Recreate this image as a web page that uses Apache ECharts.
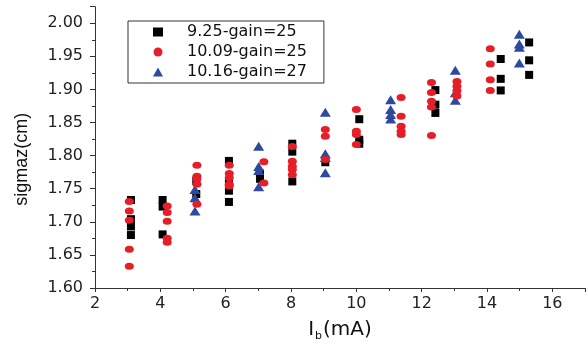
<!DOCTYPE html>
<html>
<head>
<meta charset="utf-8">
<script src="https://cdn.jsdelivr.net/npm/echarts@6/dist/echarts.min.js"></script>
<style>
html,body{margin:0;padding:0;background:#fff;}
#c{width:588px;height:347px;}
</style>
</head>
<body>
<div id="c"></div>
<script>
var seriesNames = ['9.25-gain=25', '10.09-gain=25', '10.16-gain=27'];
var xTicks = [2, 4, 6, 8, 10, 12, 14, 16];
var yTicks = [1.60, 1.65, 1.70, 1.75, 1.80, 1.85, 1.90, 1.95, 2.00];

var blackPoints = [
  [3.1,1.733],[3.1,1.704],[3.1,1.693],[3.1,1.680],
  [4.07,1.733],[4.07,1.723],[4.07,1.681],
  [5.1,1.762],[5.1,1.742],
  [6.1,1.792],[6.1,1.760],[6.1,1.747],[6.1,1.730],
  [7.05,1.773],[7.05,1.765],
  [8.04,1.818],[8.04,1.806],[8.04,1.761],
  [9.05,1.790],
  [10.09,1.855],[10.09,1.824],[10.09,1.818],
  [12.42,1.899],[12.42,1.877],[12.42,1.8645],
  [14.42,1.946],[14.42,1.916],[14.42,1.8985],
  [15.29,1.971],[15.29,1.944],[15.29,1.922]
];
var redPoints = [
  [3.05,1.7305],[3.05,1.7164],[3.05,1.7024],[3.05,1.6587],[3.05,1.6327],
  [4.21,1.724],[4.21,1.714],[4.21,1.701],[4.21,1.675],[4.21,1.669],
  [5.12,1.7856],[5.12,1.769],[5.12,1.765],[5.12,1.7566],[5.12,1.7264],
  [6.11,1.7856],[6.11,1.7731],[6.11,1.7667],[6.11,1.7566],[6.11,1.754],
  [7.17,1.7907],[7.17,1.7588],
  [8.04,1.8138],[8.04,1.7916],[8.04,1.7841],[8.04,1.779],[8.04,1.771],
  [9.05,1.8394],[9.05,1.8293],[9.05,1.794],
  [10.0,1.8695],[10.0,1.8368],[10.0,1.8318],[10.0,1.8168],
  [11.37,1.888],[11.37,1.8594],[11.37,1.8443],[11.37,1.8368],[11.37,1.8318],
  [12.3,1.9106],[12.3,1.8955],[12.3,1.882],[12.3,1.8735],[12.3,1.8303],
  [13.08,1.912],[13.08,1.905],[13.08,1.898],[13.08,1.890],
  [14.1,1.9613],[14.1,1.9383],[14.1,1.9146],[14.1,1.8985]
];
var bluePoints = [
  [5.06,1.749],[5.06,1.7365],[5.06,1.7164],
  [7.01,1.814],[7.01,1.7836],[7.01,1.7776],[7.01,1.753],
  [9.05,1.8654],[9.05,1.803],[9.05,1.797],[9.05,1.774],
  [11.05,1.8845],[11.05,1.8695],[11.05,1.862],[11.05,1.8555],
  [13.03,1.929],[13.03,1.895],[13.03,1.8835],
  [14.99,1.9834],[14.99,1.9688],[14.99,1.9638],[14.99,1.9398]
];

var chart = echarts.init(document.getElementById('c'), null, {renderer: 'canvas'});
var FONT = 'DejaVu Sans';
chart.setOption({
  animation: false,
  backgroundColor: '#fff',
  grid: {left: 95, right: -3.5, top: 6.7, bottom: 58, containLabel: false},
  legend: {
    left: 128, top: 21,
    orient: 'vertical',
    selectedMode: false,
    borderColor: '#333', borderWidth: 1,
    padding: [3, 17, 3, 25],
    itemWidth: 10, itemHeight: 9, itemGap: 4,
    formatter: function (n) { return '{g|}{t|' + n + '}'; },
    textStyle: {
      fontFamily: FONT, fontSize: 16, color: '#111',
      rich: {
        g: {width: 19},
        t: {fontFamily: FONT, fontSize: 16, color: '#111'}
      }
    },
    data: [seriesNames[0], seriesNames[1], seriesNames[2]]
  },
  xAxis: {
    type: 'value', min: 2, max: 17, interval: 2,
    name: '{a|I}{s|b}{a|(mA)}',
    nameLocation: 'middle', nameGap: 30,
    nameTextStyle: {
      rich: {
        a: {fontFamily: FONT, fontSize: 20, color: '#111', lineHeight: 24},
        s: {fontFamily: FONT, fontSize: 11, color: '#111', lineHeight: 24, verticalAlign: 'bottom', padding: [0, 1, 0, 1]}
      }
    },
    axisLine: {show: true, onZero: false, lineStyle: {color: '#333', width: 1}},
    axisTick: {show: true, inside: false, length: 4, lineStyle: {color: '#333'}},
    minorTick: {show: true, splitNumber: 2, length: 3, lineStyle: {color: '#333'}},
    splitLine: {show: false},
    axisLabel: {
      fontFamily: FONT, fontSize: 16, color: '#222', margin: 8,
      formatter: function (v) { return xTicks.indexOf(v) >= 0 ? String(v) : ''; }
    }
  },
  yAxis: {
    type: 'value', min: 1.6, max: 2.025, interval: 0.05,
    name: 'sigmaz(cm)',
    nameLocation: 'middle', nameGap: 64,
    nameTextStyle: {fontFamily: 'Liberation Sans', fontSize: 18, color: '#111', padding: [0, 24, 0, 0]},
    axisLine: {show: true, onZero: false, lineStyle: {color: '#333', width: 1}},
    axisTick: {show: true, inside: false, length: 5, lineStyle: {color: '#333'}},
    minorTick: {show: true, splitNumber: 2, length: 3, lineStyle: {color: '#333'}},
    splitLine: {show: false},
    axisLabel: {
      fontFamily: FONT, fontSize: 16, color: '#222', margin: 12, showMaxLabel: false,
      formatter: function (v) {
        for (var i = 0; i < yTicks.length; i++) { if (Math.abs(yTicks[i] - v) < 1e-6) return yTicks[i].toFixed(2); }
        return '';
      }
    }
  },
  series: [
    {name: seriesNames[0], type: 'scatter', data: blackPoints, symbol: 'rect', symbolSize: 8, itemStyle: {color: '#000', opacity: 1}, z: 2},
    {name: seriesNames[2], type: 'scatter', data: bluePoints, symbol: 'triangle', symbolSize: [11, 9], itemStyle: {color: '#2e4a9f', opacity: 1}, z: 3},
    {name: seriesNames[1], type: 'scatter', data: redPoints, symbol: 'circle', symbolSize: [9, 7], itemStyle: {color: '#e61e27', opacity: 1}, z: 4}
  ]
});
</script>
</body>
</html>
